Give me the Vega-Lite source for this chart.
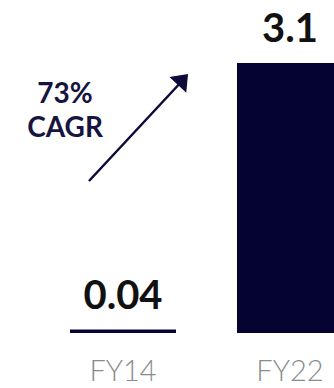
{
  "$schema": "https://vega.github.io/schema/vega-lite/v6.json",
  "width": 334,
  "height": 333,
  "autosize": {"type": "none"},
  "padding": {"left": 0, "top": 0, "right": 0, "bottom": 55},
  "background": "white",
  "config": {"view": {"stroke": null}, "font": "Lato"},
  "layer": [
    {
      "data": {"values": [
        {"year": "FY14", "value": 0.04},
        {"year": "FY22", "value": 3.1}
      ]},
      "encoding": {
        "x": {
          "field": "year", "type": "nominal", "sort": null,
          "scale": {"range": [0, 413], "paddingInner": 0.3653, "paddingOuter": 0.4192},
          "axis": {
            "title": null, "domain": false, "ticks": false, "grid": false,
            "labelAngle": 0, "labelFont": "Lato", "labelFontWeight": 300,
            "labelFontSize": 29, "labelColor": "#8c8c8c",
            "labelBaseline": "top", "labelPadding": 24
          }
        },
        "y": {
          "field": "value", "type": "quantitative",
          "scale": {"domain": [0, 3.8233], "nice": false, "zero": true},
          "axis": null
        }
      },
      "layer": [
        {"mark": {"type": "bar", "color": "#050332", "clip": true}},
        {
          "mark": {"type": "text", "baseline": "alphabetic", "align": "center", "dy": -21,
                   "font": "Lato", "fontSize": 40, "fontWeight": "bold", "color": "#111111"},
          "encoding": {"text": {"field": "value", "type": "nominal"}}
        }
      ]
    },
    {
      "layer": [
        {
          "data": {"values": [
            {"pos": -0.2036, "value": 1.7452},
            {"pos": 0.3593, "value": 2.905}
          ]},
          "mark": {"type": "line", "color": "#0c0a3a", "strokeWidth": 2.5, "strokeCap": "butt"},
          "encoding": {
            "x": {"field": "pos", "type": "quantitative",
                  "scale": {"domain": [-0.7365, 1.2635], "nice": false, "zero": false}, "axis": null},
            "y": {"field": "value", "type": "quantitative",
                  "scale": {"domain": [0, 3.8233], "nice": false}, "axis": null}
          }
        },
        {
          "data": {"values": [{"pos": 0.359, "value": 2.911}]},
          "mark": {"type": "point", "filled": true, "opacity": 1, "color": "#0c0a3a",
                   "shape": "M0,-0.65L1,0.65L-1,0.65Z", "size": 529, "angle": 43},
          "encoding": {
            "x": {"field": "pos", "type": "quantitative",
                  "scale": {"domain": [-0.7365, 1.2635], "nice": false, "zero": false}, "axis": null},
            "y": {"field": "value", "type": "quantitative",
                  "scale": {"domain": [0, 3.8233], "nice": false}, "axis": null}
          }
        },
        {
          "data": {"values": [
            {"pos": -0.347, "value": 2.641, "note": "73%"},
            {"pos": -0.347, "value": 2.25, "note": "CAGR"}
          ]},
          "mark": {"type": "text", "align": "center", "baseline": "alphabetic",
                   "font": "Lato", "fontSize": 28, "fontWeight": "bold", "color": "#161540"},
          "encoding": {
            "x": {"field": "pos", "type": "quantitative",
                  "scale": {"domain": [-0.7365, 1.2635], "nice": false, "zero": false}, "axis": null},
            "y": {"field": "value", "type": "quantitative",
                  "scale": {"domain": [0, 3.8233], "nice": false}, "axis": null},
            "text": {"field": "note", "type": "nominal"}
          }
        }
      ]
    }
  ],
  "resolve": {"scale": {"x": "independent"}}
}
